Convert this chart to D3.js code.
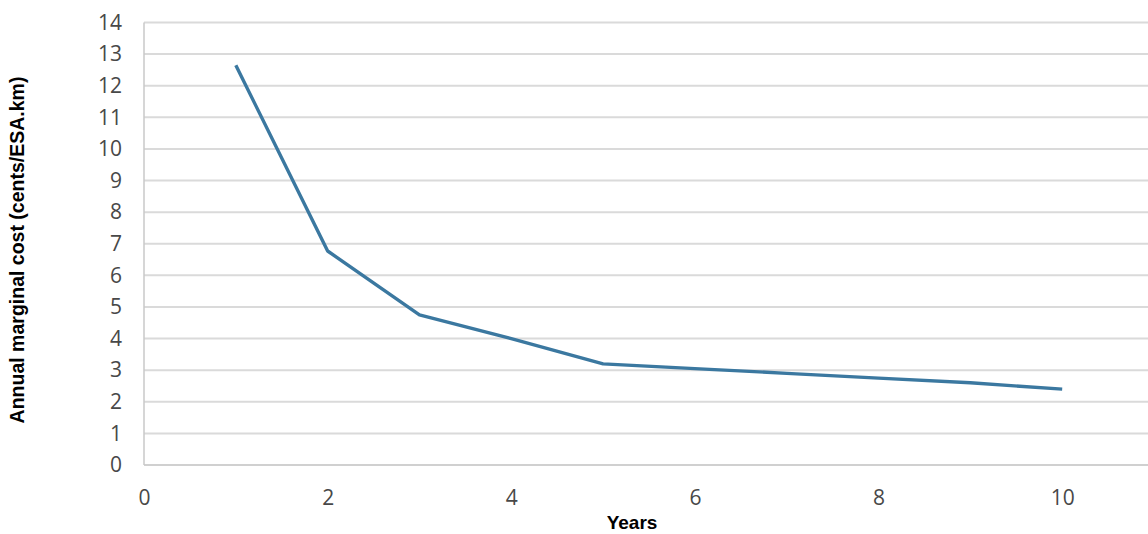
<!DOCTYPE html>
<html><head><meta charset="utf-8">
<script src="https://cdn.jsdelivr.net/npm/d3@7"></script>
<style>body{margin:0;background:#fff}svg{display:block}</style>
</head><body>
<script>
const years = [1,2,3,4,5,6,7,8,9,10];
const cost = [12.65,6.77,4.75,4.0,3.2,3.05,2.9,2.75,2.6,2.4];
const xTicks = [0,2,4,6,8,10];
const yTicks = [0,1,2,3,4,5,6,7,8,9,10,11,12,13,14];
const xTitle = "Years";
const yTitle = "Annual marginal cost (cents/ESA.km)";

const W=1148,H=534;
const svg=d3.select("body").append("svg").attr("width",W).attr("height",H);
const x=d3.scaleLinear().domain([0,11]).range([144,1154]);
const y=d3.scaleLinear().domain([0,14]).range([465,22.5]);

// gridlines
svg.append("g").selectAll("line").data(yTicks).join("line")
  .attr("x1",144).attr("x2",W).attr("y1",d=>y(d)).attr("y2",d=>y(d))
  .attr("stroke",d=>d===0?"#d0d0d0":"#dadada").attr("stroke-width",2);
// y axis line
svg.append("line").attr("x1",144).attr("x2",144).attr("y1",y(14)).attr("y2",y(0))
  .attr("stroke","#c8c8c8").attr("stroke-width",1.5);

const yAxis=d3.axisLeft(y).tickValues(yTicks).tickSize(0).tickPadding(22);
const gy=svg.append("g").attr("transform","translate(144,0)").call(yAxis);
gy.select(".domain").remove();
gy.selectAll("text").attr("font-family","'Open Sans', sans-serif").attr("font-size",21).attr("fill","#484848");

const xAxis=d3.axisBottom(x).tickValues(xTicks).tickSize(0).tickPadding(0);
const gx=svg.append("g").attr("transform","translate(0,498)").call(xAxis);
gx.select(".domain").remove();
gx.selectAll("text").attr("font-family","'Open Sans', sans-serif").attr("font-size",21).attr("fill","#484848").attr("dy","0.35em");

const line=d3.line().x((d,i)=>x(years[i])).y(d=>y(d));
svg.append("path").datum(cost).attr("d",line).attr("fill","none")
  .attr("stroke","#3b78a0").attr("stroke-width",3.4).attr("stroke-linejoin","round");

svg.append("text").attr("x",632).attr("y",529).attr("text-anchor","middle")
  .attr("font-family","'Liberation Sans', Arial, sans-serif").attr("font-weight","bold").attr("font-size",19).text(xTitle);
svg.append("text").attr("transform","translate(24,250) rotate(-90)").attr("text-anchor","middle")
  .attr("font-family","'Liberation Sans', Arial, sans-serif").attr("font-weight","bold").attr("font-size",19.5).text(yTitle);
</script>
</body></html>
